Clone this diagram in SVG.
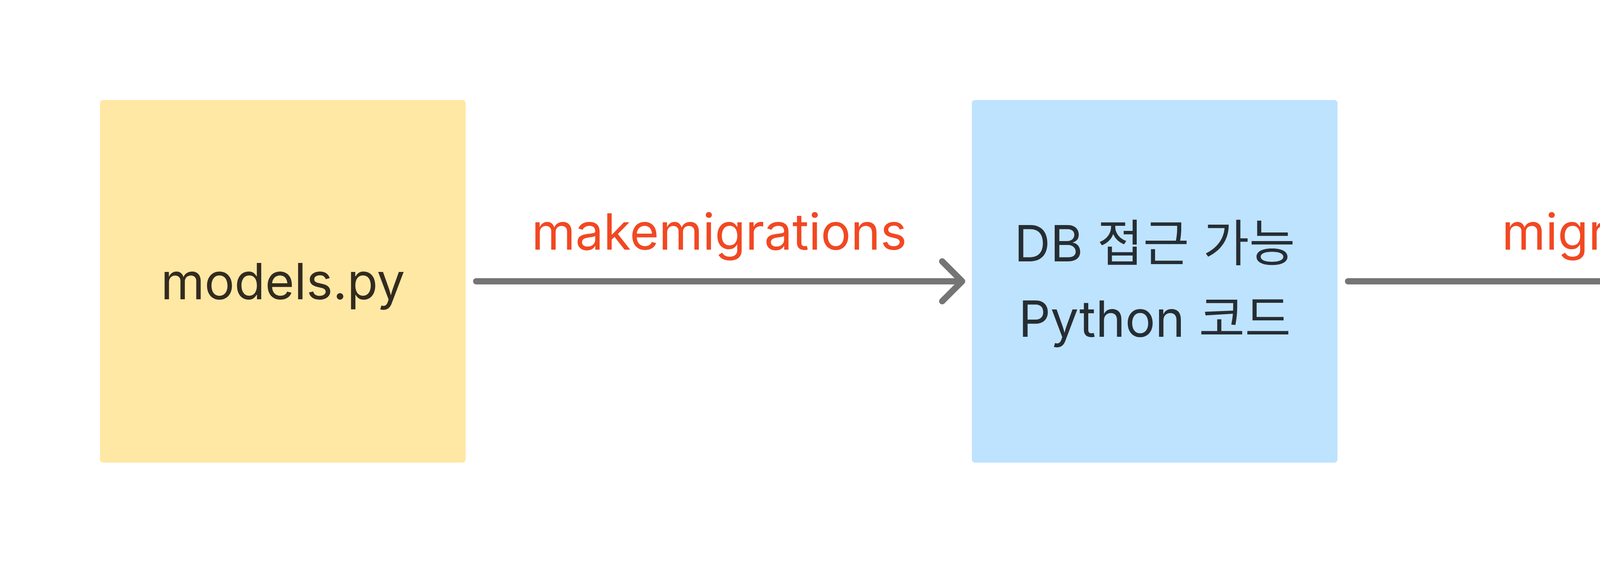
<svg xmlns="http://www.w3.org/2000/svg" width="5912" height="1441" viewBox="0 0 5912 1441">
  <style>
    .lbl { font-family: Inter, "Noto Sans CJK KR", sans-serif; font-size: 128px; text-anchor: middle; }
    .edge-lbl { font-family: Inter, "Noto Sans CJK KR", sans-serif; font-size: 128px; text-anchor: middle; fill: #F24822; }
    .conn { fill: none; stroke: #757575; stroke-width: 16; stroke-linecap: round; stroke-linejoin: round; }
  </style>
  <rect x="0" y="0" width="5912" height="1441" fill="#FFFFFF"/>
  <g id="node-models">
    <rect x="256" y="256" width="936" height="928" rx="8" fill="#FFE8A3"/>
    <text class="lbl" x="724" y="766" fill="#332B1F">models.py</text>
  </g>
  <g id="node-python">
    <rect x="2488" y="256" width="936" height="928" rx="8" fill="#BDE3FF"/>
    <text class="lbl" x="2956" y="669" fill="#262D33">DB 접근 가능</text>
    <text class="lbl" x="2956" y="862" fill="#262D33">Python 코드</text>
  </g>
  <g id="node-db">
    <path d="M4722,304 L4722,1136 A466,46 0 0 0 5654,1136 L5654,304 Z" fill="#E4CCFF"/>
    <ellipse cx="5188" cy="304" rx="466" ry="46" fill="#E4CCFF" stroke="#FFFFFF" stroke-width="6"/>
    <text x="5190" y="830" font-family="Inter, sans-serif" font-size="192" font-weight="500" text-anchor="middle" fill="#2D2633">DB</text>
  </g>
  <g id="connectors">
    <path class="conn" d="M1219,720 L2462,720 M2412,669 L2463,720 L2412,771"/>
    <text class="edge-lbl" x="1841" y="639">makemigrations</text>
    <path class="conn" d="M3451,720 L4695,720 M4645,669 L4696,720 L4645,771"/>
    <text class="edge-lbl" x="4073" y="639">migrate</text>
  </g>
</svg>
